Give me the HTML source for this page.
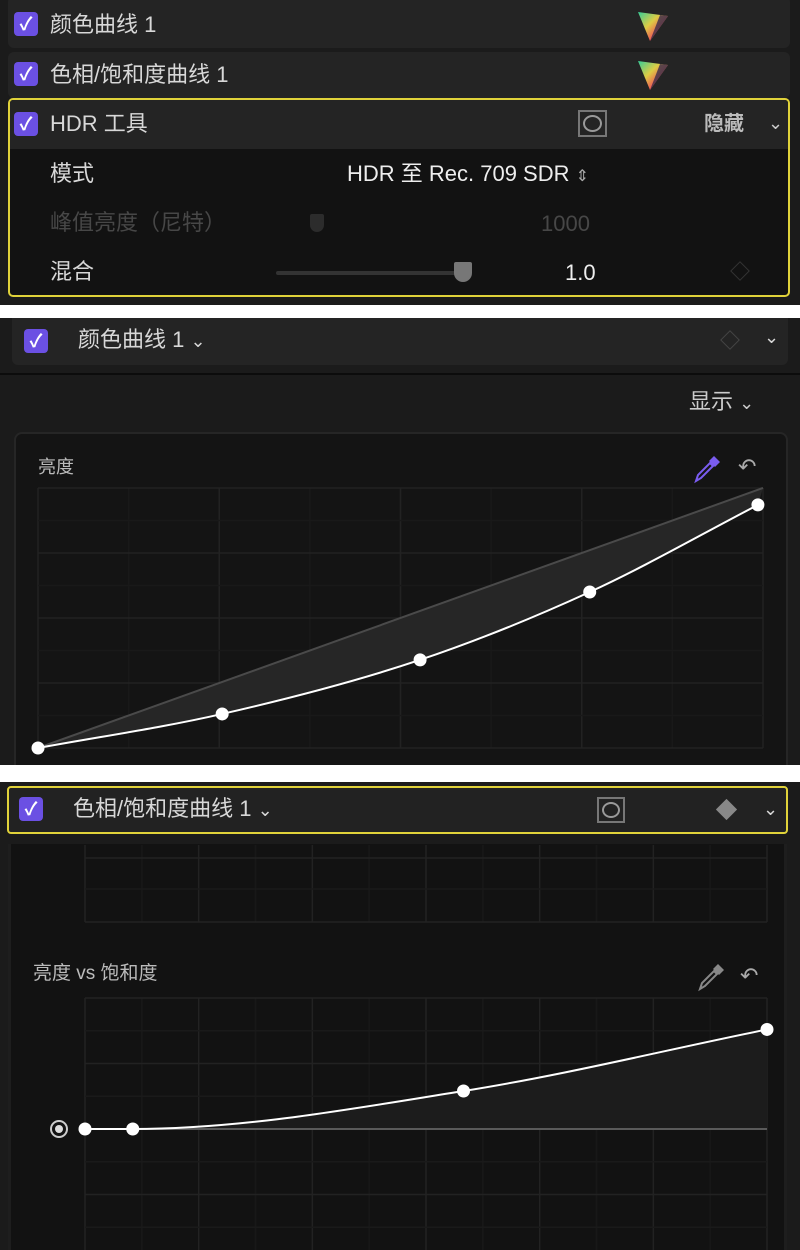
<!DOCTYPE html>
<html><head><meta charset="utf-8">
<style>
*{margin:0;padding:0;box-sizing:border-box}
body{width:800px;height:1250px;background:#fff;position:relative;overflow:hidden;font-family:"Liberation Sans","Noto Sans CJK SC",sans-serif;color:#d8d8d8}
.abs{position:absolute}
.cb{position:absolute;width:24px;height:24px;background:#6b50e3;border-radius:4px;color:#fff;font-size:18px;line-height:24px;text-align:center;font-weight:bold}
.t{position:absolute;font-size:22px;white-space:nowrap;line-height:26px}
</style></head><body>
<!-- Panel 1 -->
<div class="abs" style="left:0;top:0;width:800px;height:305px;background:#1b1b1b">
  <div class="abs" style="left:8px;top:-4px;width:782px;height:52px;background:#242424;border-radius:6px"></div>
  <div class="cb" style="left:14px;top:12px">✓</div>
  <div class="t" style="left:50px;top:12px">颜色曲线 1</div>
  <svg class="abs" style="left:636px;top:9px" width="34" height="34" viewBox="0 0 34 34"><defs><linearGradient id="g1" x1="0" y1="0" x2="1" y2="1"><stop offset="0" stop-color="#3c9"/><stop offset=".4" stop-color="#dc4"/><stop offset=".7" stop-color="#e55"/><stop offset="1" stop-color="#74f"/></linearGradient></defs><polygon points="2,3 32,7 14,32" fill="url(#g1)"/><polygon points="24,6 32,7 14,32" fill="#3a2a4a" opacity=".8"/></svg>
  <div class="abs" style="left:8px;top:52px;width:782px;height:46px;background:#242424;border-radius:6px"></div>
  <div class="cb" style="left:14px;top:62px">✓</div>
  <div class="t" style="left:50px;top:62px">色相/饱和度曲线 1</div>
  <svg class="abs" style="left:636px;top:58px" width="34" height="34" viewBox="0 0 34 34"><polygon points="2,3 32,7 14,32" fill="url(#g1)"/><polygon points="24,6 32,7 14,32" fill="#3a2a4a" opacity=".8"/></svg>
  <div class="abs" style="left:8px;top:98px;width:782px;height:199px;border:2px solid #e0d23a;border-radius:5px;background:#121212;overflow:hidden">
    <div class="abs" style="left:0;top:0;width:780px;height:49px;background:#242424"></div>
  </div>
  <div class="cb" style="left:14px;top:112px">✓</div>
  <div class="t" style="left:50px;top:111px">HDR 工具</div>
  <div class="abs" style="left:578px;top:110px;width:29px;height:27px;border:2px solid #777"><div class="abs" style="left:3px;top:3px;width:19px;height:17px;border:2px solid #999;border-radius:50%"></div></div>
  <div class="t" style="left:704px;top:111px;font-size:20px;font-weight:bold;color:#bbb">隐藏</div>
  <div class="t" style="left:768px;top:110px;font-size:18px;color:#ccc">⌄</div>
  <div class="t" style="left:50px;top:161px">模式</div>
  <div class="t" style="left:347px;top:161px;color:#eee">HDR 至 Rec. 709 SDR <span style="font-size:16px;color:#aaa">⇕</span></div>
  <div class="t" style="left:50px;top:210px;color:#474747">峰值亮度（尼特）</div>
  <div class="abs" style="left:310px;top:214px;width:14px;height:18px;background:#2c2c2c;border-radius:2px 2px 7px 7px"></div>
  <div class="t" style="left:541px;top:211px;color:#474747">1000</div>
  <div class="t" style="left:50px;top:259px">混合</div>
  <div class="abs" style="left:276px;top:271px;width:186px;height:4px;background:#333;border-radius:2px"></div>
  <div class="abs" style="left:454px;top:262px;width:18px;height:20px;background:#777;border-radius:2px 2px 9px 9px"></div>
  <div class="t" style="left:565px;top:260px;color:#eee">1.0</div>
  <div class="abs" style="left:733px;top:264px;width:14px;height:14px;border:1.5px solid #333;transform:rotate(45deg)"></div>
</div>

<!-- Panel 2 -->
<div class="abs" style="left:0;top:318px;width:800px;height:447px;background:#1b1b1b;overflow:hidden">
  <div class="abs" style="left:12px;top:0;width:776px;height:47px;background:#242424;border-radius:0 0 6px 6px"></div>
  <div class="cb" style="left:24px;top:11px">✓</div>
  <div class="t" style="left:78px;top:9px">颜色曲线 1 <span style="font-size:18px">⌄</span></div>
  <div class="abs" style="left:723px;top:15px;width:14px;height:14px;border:1.5px solid #444;transform:rotate(45deg)"></div>
  <div class="t" style="left:764px;top:6px;font-size:18px">⌄</div>
  <div class="abs" style="left:0;top:55px;width:800px;height:2px;background:#0c0c0c"></div>
  <div class="t" style="left:689px;top:71px;color:#ccc">显示 <span style="font-size:18px">⌄</span></div>
  <div class="abs" style="left:14px;top:114px;width:774px;height:360px;background:#141414;border:2px solid #262626;border-radius:8px"></div>
  <div class="t" style="left:38px;top:136px;font-size:18px;color:#bbb">亮度</div>
  <svg class="abs" style="left:692px;top:136px" width="30" height="30" viewBox="0 0 30 30"><path d="M4 27 L6 21 L18 9 L21 12 L9 24 Z" fill="none" stroke="#7a5cf0" stroke-width="2"/><path d="M17 7 L22 2 L28 8 L23 13 Z" fill="#7a5cf0"/></svg>
  <div class="t" style="left:738px;top:136px;font-size:22px;color:#aaa">↶</div>
  <svg id="lumaSvg" class="abs" style="left:0;top:0" width="800" height="447"></svg>
</div>

<!-- Panel 3 -->
<div class="abs" style="left:0;top:782px;width:800px;height:468px;background:#1b1b1b;overflow:hidden">
  <div class="abs" style="left:7px;top:4px;width:781px;height:48px;background:#222;border:2px solid #e0d23a;border-radius:4px"></div>
  <div class="cb" style="left:19px;top:15px">✓</div>
  <div class="t" style="left:73px;top:14px">色相/饱和度曲线 1 <span style="font-size:18px">⌄</span></div>
  <div class="abs" style="left:597px;top:15px;width:28px;height:26px;border:2px solid #777"><div class="abs" style="left:3px;top:3px;width:18px;height:16px;border:2px solid #999;border-radius:50%"></div></div>
  <div class="abs" style="left:719px;top:20px;width:15px;height:15px;background:#888;transform:rotate(45deg)"></div>
  <div class="t" style="left:763px;top:14px;font-size:18px">⌄</div>
  <div class="abs" style="left:8px;top:62px;width:779px;height:406px;background:#121212;border-left:3px solid #1e1e1e;border-right:3px solid #1e1e1e"></div>
  <div class="t" style="left:33px;top:179px;font-size:19px;color:#bbb">亮度 vs 饱和度</div>
  <svg class="abs" style="left:696px;top:180px" width="30" height="30" viewBox="0 0 30 30"><path d="M4 27 L6 21 L18 9 L21 12 L9 24 Z" fill="none" stroke="#888" stroke-width="2"/><path d="M17 7 L22 2 L28 8 L23 13 Z" fill="#888"/></svg>
  <div class="t" style="left:740px;top:181px;font-size:22px;color:#aaa">↶</div>
  <svg id="hsSvg" class="abs" style="left:0;top:0" width="800" height="468"></svg>
</div>

<script>
// Luma curve data (normalized 0..1)
const lumaX = [0, 0.254, 0.527, 0.761, 0.993];
const lumaY = [0, 0.131, 0.339, 0.600, 0.935];
// Luma vs saturation data (x 0..1, y offset from neutral, -1..1)
const satX = [0, 0.070, 0.555, 1.0];
const satY = [0, 0, 0.290, 0.760];

const NS='http://www.w3.org/2000/svg';
function mk(svg,tag,attrs){const e=document.createElementNS(NS,tag);for(const k in attrs)e.setAttribute(k,attrs[k]);svg.appendChild(e);return e;}
// monotone cubic (Fritsch-Carlson) path through pixel points
function smooth(pts){
  const n=pts.length,dx=[],m=[],t=[];
  for(let i=0;i<n-1;i++){dx.push(pts[i+1][0]-pts[i][0]);m.push((pts[i+1][1]-pts[i][1])/dx[i]);}
  t[0]=m[0];t[n-1]=m[n-2];
  for(let i=1;i<n-1;i++){t[i]=(m[i-1]*m[i]<=0)?0:(m[i-1]+m[i])/2;}
  for(let i=0;i<n-1;i++){if(m[i]===0){t[i]=0;t[i+1]=0;continue;}const a=t[i]/m[i],b=t[i+1]/m[i],s=a*a+b*b;if(s>9){const k=3/Math.sqrt(s);t[i]=k*a*m[i];t[i+1]=k*b*m[i];}}
  let d='M'+pts[0][0]+' '+pts[0][1];
  for(let i=0;i<n-1;i++){const h=dx[i]/3;d+=' C'+(pts[i][0]+h)+' '+(pts[i][1]+t[i]*h)+' '+(pts[i+1][0]-h)+' '+(pts[i+1][1]-t[i+1]*h)+' '+pts[i+1][0]+' '+pts[i+1][1];}
  return d;}

// Luma chart (panel coords: panel top = 318)
(function(){
  const svg=document.getElementById('lumaSvg');
  const L=38,R=763,T=170,B=430;
  const sx=v=>L+v*(R-L), sy=v=>B-v*(B-T);
  for(let i=0;i<=8;i++){const x=L+i*(R-L)/8;const l=mk(svg,'line',{x1:x,y1:T,x2:x,y2:B,stroke:i%2?'#191919':'#222','stroke-width':1.5});}
  for(let i=0;i<=8;i++){const y=T+i*(B-T)/8;const l=mk(svg,'line',{x1:L,y1:y,x2:R,y2:y,stroke:i%2?'#191919':'#222','stroke-width':1.5});}
  const pts=lumaX.map((v,i)=>[sx(v),sy(lumaY[i])]);
  const c=smooth(pts);
  const fill=mk(svg,'path',{d:c+' L'+sx(1)+' '+sy(1)+' Z',fill:'#262626'});
  
  
  const diag=mk(svg,'line',{x1:sx(0),y1:sy(0),x2:sx(1),y2:sy(1),stroke:'#4a4a4a','stroke-width':2});
  
  
  const line=mk(svg,'path',{d:c,fill:'none',stroke:'#fff','stroke-width':2});
  
  
  pts.forEach(p=>{const e=mk(svg,'circle',{cx:p[0],cy:p[1],r:6.5,fill:'#fff'});
    
    });
})();

// Hue/sat chart (panel coords: panel top = 782)
(function(){
  const svg=document.getElementById('hsSvg');
  const L=85,R=767;
  const T1=63,B1=140;
  for(let i=0;i<=12;i++){const x=L+i*(R-L)/12;const l=mk(svg,'line',{x1:x,y1:T1,x2:x,y2:B1,stroke:i%2?'#181818':'#222','stroke-width':1.5});}
  [76,107,140].forEach((y,i)=>{const l=mk(svg,'line',{x1:L,y1:y,x2:R,y2:y,stroke:i==1?'#1a1a1a':'#222','stroke-width':1.5});});
  const T=216,C=347,H=131;
  for(let i=0;i<=12;i++){const x=L+i*(R-L)/12;const l=mk(svg,'line',{x1:x,y1:T,x2:x,y2:468,stroke:i%2?'#181818':'#222','stroke-width':1.5});}
  for(let i=0;i<=8;i++){const y=T+i*H/4;if(i==4)continue;const l=mk(svg,'line',{x1:L,y1:y,x2:R,y2:y,stroke:i%2?'#1a1a1a':'#222','stroke-width':1.5});}
  const sx=v=>L+v*(R-L), sy=v=>C-v*H;
  const pts=satX.map((v,i)=>[sx(v),sy(satY[i])]);
  const c=smooth(pts);
  const fill=mk(svg,'path',{d:c+' L'+sx(1)+' '+C+' L'+sx(0)+' '+C+' Z',fill:'#1c1c1c'});
  
  
  const mid=mk(svg,'line',{x1:L,y1:C,x2:R,y2:C,stroke:'#5a5a5a','stroke-width':2});
  
  
  const line=mk(svg,'path',{d:c,fill:'none',stroke:'#fff','stroke-width':2});
  
  
  pts.forEach(p=>{const e=mk(svg,'circle',{cx:p[0],cy:p[1],r:6.5,fill:'#fff'});
    
    });
  const tg=mk(svg,'circle',{cx:59,cy:C,r:8,fill:'none',stroke:'#ccc','stroke-width':2});
  
  
  const td=mk(svg,'circle',{cx:59,cy:C,r:4,fill:'#ddd'});
  
  
})();
</script>
</body></html>
